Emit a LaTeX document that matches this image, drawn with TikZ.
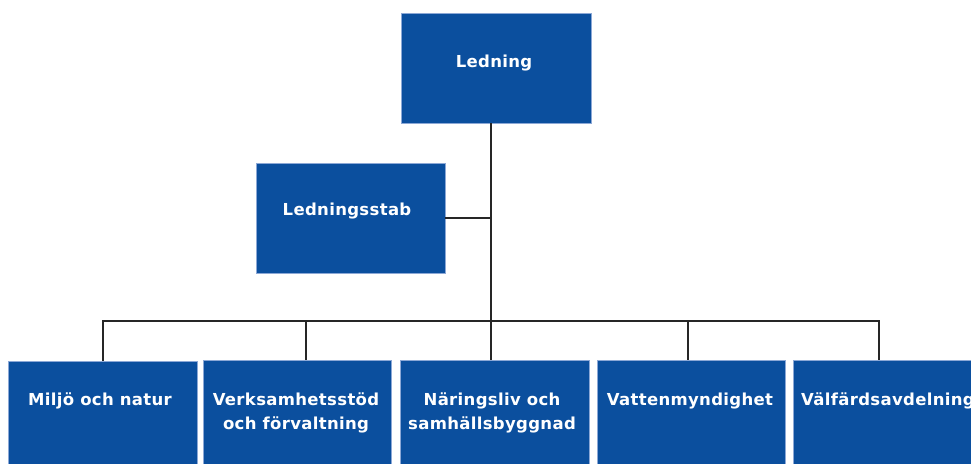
\documentclass[tikz,border=0pt]{standalone}
\usepackage{fontspec}
\newfontfamily\lbfont[LetterSpace=2]{DejaVu Sans}
\definecolor{boxblue}{RGB}{11,79,158}
\definecolor{boxedge}{RGB}{140,168,214}
\begin{document}
\begin{tikzpicture}[x=1pt,y=-1pt,
  box/.style={draw=boxedge, fill=boxblue, line width=0.8pt, inner sep=0pt, outer sep=0pt, anchor=north west},
  lbl/.style={text=white, font=\lbfont\bfseries\fontsize{16.5}{24}\selectfont, align=center, inner sep=0pt, anchor=base},
  conn/.style={line width=1.4pt, draw=black!85}]
\clip (0,0) rectangle (971,463);
\useasboundingbox (0,0) rectangle (971,463);
% top boxes
\node[box, minimum width=190pt, minimum height=110pt] (top) at (401,13) {};
\node[box, minimum width=189pt, minimum height=110pt] (stab) at (256,163) {};
\node[lbl] (ttop) at (494,67) {Ledning};
\node[lbl] (tstab) at (347,215.5) {Ledningsstab};
% bottom boxes
\node[box, minimum width=189pt, minimum height=120pt] (m1) at (8,361) {};
\node[box, minimum width=188pt, minimum height=120pt] (m2) at (203,360) {};
\node[box, minimum width=189pt, minimum height=120pt] (m3) at (400,360) {};
\node[box, minimum width=188pt, minimum height=120pt] (m4) at (597,360) {};
\node[box, minimum width=188pt, minimum height=120pt] (m5) at (793,360) {};
\node[lbl] (t1) at (100,405.5) {Miljö och natur};
\node[lbl] (t2) at (296,429.5) {Verksamhetsstöd\\och förvaltning};
\node[lbl] (t3) at (492,429.5) {Näringsliv och\\samhällsbyggnad};
\node[lbl] (t4) at (690,405.5) {Vattenmyndighet};
\node[lbl] (t5) at (888,405.5) {Välfärdsavdelning};
% connectors
\coordinate (b1) at (103,321);
\coordinate (b2) at (306,321);
\coordinate (j) at (491,321);
\coordinate (b4) at (688,321);
\coordinate (b5) at (879,321);
\draw[conn] (j |- top.south) -- (j);
\draw[conn] (stab.east) -- (stab.east -| j);
\draw[conn] (b1 |- m1.north) -- (b1) -- (b5) -- (b5 |- m5.north);
\draw[conn] (b2) -- (b2 |- m2.north);
\draw[conn] (j) -- (j |- m3.north);
\draw[conn] (b4) -- (b4 |- m4.north);
\end{tikzpicture}
\end{document}
